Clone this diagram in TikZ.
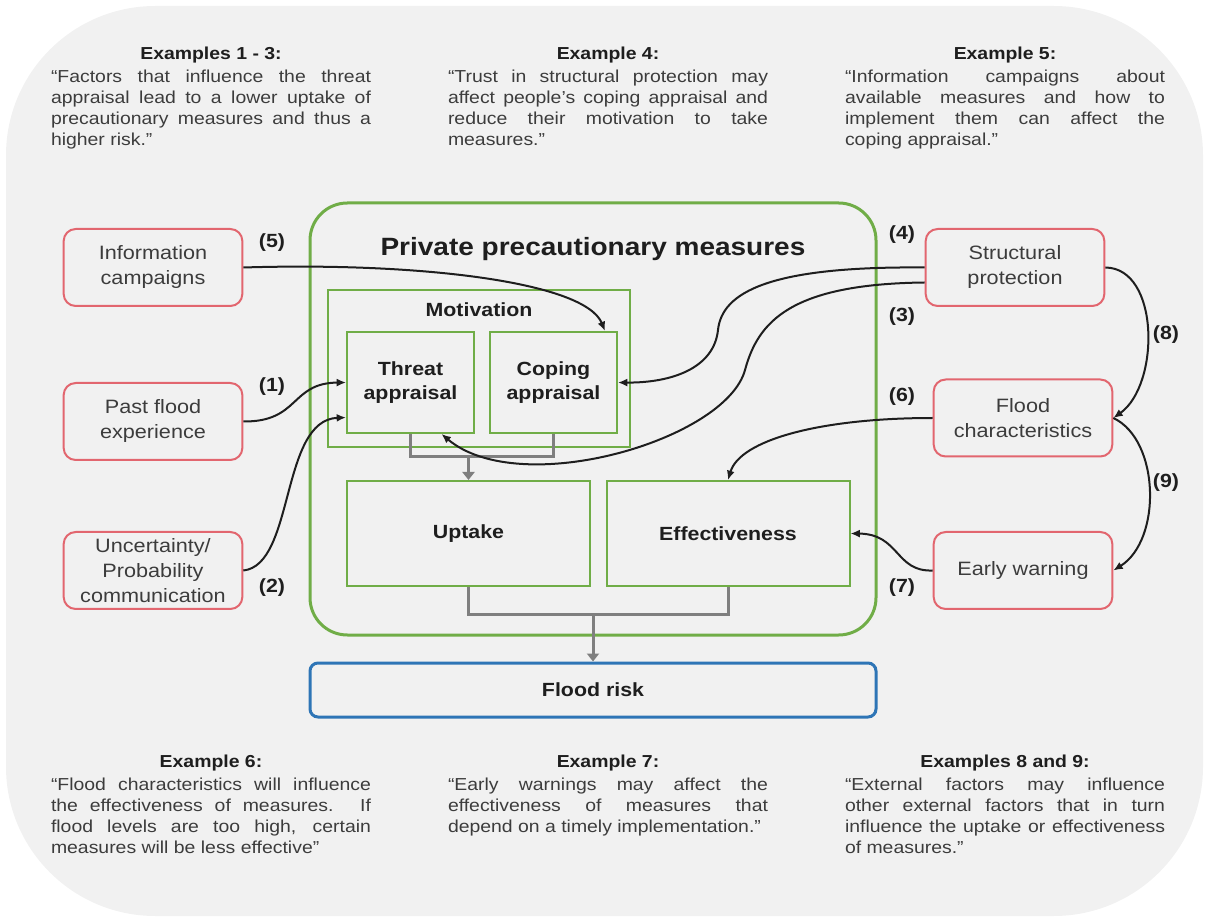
\documentclass[tikz,border=0pt]{standalone}
\usepackage{fontspec}
\setmainfont{Liberation Sans}[FakeStretch=1.12]
\usepackage{tikz}
\usetikzlibrary{positioning,arrows.meta,calc}
\definecolor{FRBack}{HTML}{F1F1F1}
\definecolor{FRRed}{HTML}{E2666F}
\definecolor{FRGreen}{HTML}{70AD47}
\definecolor{FRBlue}{HTML}{2E75B6}
\definecolor{FRGray}{HTML}{7F7F7F}
\definecolor{FRDark}{HTML}{1E1E1E}
\definecolor{FRText}{HTML}{3C3C3C}
\tikzset{frfactor/.style={draw=FRRed, line width=1.5pt, rounded corners=9pt, fill=FRBack, align=center, minimum width=134pt, minimum height=57.75pt, inner sep=2pt, text=FRText, font=\fontsize{14.5}{18.75}\selectfont}, frpanel/.style={draw=FRGreen, line width=2.25pt, rounded corners=28pt, minimum width=424.5pt, minimum height=324pt}, frgroup/.style={draw=FRGreen, line width=1.5pt, minimum width=226.5pt, minimum height=117.75pt}, frappraisal/.style={draw=FRGreen, line width=1.5pt, align=center, minimum width=95.25pt, minimum height=75.75pt, text=FRDark, font=\fontsize{14.3}{18.3}\selectfont\bfseries}, fraspect/.style={draw=FRGreen, line width=1.5pt, minimum width=182.25pt, minimum height=78.75pt, text=FRDark, font=\fontsize{14.3}{18.3}\selectfont\bfseries}, frrisk/.style={draw=FRBlue, line width=2.25pt, rounded corners=6pt, minimum width=424.5pt, minimum height=40.5pt, text=FRDark, font=\fontsize{14.3}{18.3}\selectfont\bfseries}, frtitle/.style={text=FRDark, font=\fontsize{18.75}{22}\selectfont\bfseries}, frlabel/.style={inner sep=1pt, text=FRDark, font=\fontsize{14.3}{18.3}\selectfont\bfseries}, frhead/.style={inner sep=0pt, text=FRDark, font=\fontsize{13}{15.75}\selectfont\bfseries}, frquote/.style={inner sep=0pt, text width=240pt, align=justify, text=FRText, font=\fontsize{13}{15.75}\selectfont}, frarrow/.style={-{Latex[length=7pt,width=6pt]}, line width=1.5pt, draw=FRDark}, frflow/.style={line width=2.25pt, draw=FRGray}, frflowarrow/.style={-{Triangle[length=6pt,width=9pt]}, line width=2.25pt, draw=FRGray}}
\begin{document}
\begin{tikzpicture}[x=0.75pt,y=-0.75pt]
\useasboundingbox (0,0) rectangle (1207,919);
\fill[FRBack, rounded corners=112pt] (6,6) rectangle (1203,916);
\node[frhead] (ex1) at (211,55) {Examples 1 - 3:};
\node[frquote, below=5pt of ex1] (q1) {“Factors that influence the threat\linebreak appraisal lead to a lower uptake of\linebreak precautionary measures and thus a\linebreak higher risk.”};
\node[frhead] (ex4) at (608,55) {Example 4:};
\node[frquote, below=5pt of ex4] (q4) {“Trust in structural protection may\linebreak affect people’s coping appraisal and\linebreak reduce their motivation to take\linebreak measures.”};
\node[frhead] (ex5) at (1005,55) {Example 5:};
\node[frquote, below=5pt of ex5] (q5) {“Information campaigns about\linebreak available measures and how to\linebreak implement them can affect the\linebreak coping appraisal.”};
\node[frhead] (ex6) at (211,763) {Example 6:};
\node[frquote, below=5pt of ex6] (q6) {“Flood characteristics will influence\linebreak the effectiveness of measures. If\linebreak flood levels are too high, certain\linebreak measures will be less effective”};
\node[frhead] (ex7) at (608,763) {Example 7:};
\node[frquote, below=5pt of ex7] (q7) {“Early warnings may affect the\linebreak effectiveness of measures that\linebreak depend on a timely implementation.”};
\node[frhead] (ex8) at (1005,763) {Examples 8 and 9:};
\node[frquote, below=5pt of ex8] (q8) {“External factors may influence\linebreak other external factors that in turn\linebreak influence the uptake or effectiveness\linebreak of measures.”};
\node[frpanel] (ppm) at (593,419) {};
\node[frtitle] (ppmtitle) at (593,249) {Private precautionary measures};
\node[frgroup] (motiv) at (479,368.5) {};
\node[frlabel] (motivtitle) at (479,310) {Motivation};
\node[frappraisal] (threat) at (410.5,382.5) {Threat\\appraisal};
\node[frappraisal] (coping) at (553.5,382.5) {Coping\\appraisal};
\node[fraspect] (uptake) at (468.5,533.5) {Uptake};
\node[fraspect] (effect) at (728,533.5) {Effectiveness};
\node[frrisk] (risk) at (593,690) {Flood risk};
\node[frfactor] (info) at (153,267.5) {Information\\campaigns};
\node[frfactor] (past) at (153,421.5) {Past flood\\experience};
\node[frfactor] (uncert) at (153,570.5) {Uncertainty/\\Probability\\communication};
\node[frfactor] (struct) at (1015,267.5) {Structural\\protection};
\node[frfactor] (flood) at (1023,418) {Flood\\characteristics};
\node[frfactor] (early) at (1023,570.5) {Early warning};
\node[frlabel] (n5) at (272,243) {(5)};
\node[frlabel] (n1) at (272,387) {(1)};
\node[frlabel] (n2) at (272,588) {(2)};
\node[frlabel] (n4) at (902,235) {(4)};
\node[frlabel] (n3) at (902,317) {(3)};
\node[frlabel] (n6) at (902,397) {(6)};
\node[frlabel] (n7) at (902,588) {(7)};
\node[frlabel] (n8) at (1166,335) {(8)};
\node[frlabel] (n9) at (1166,483) {(9)};
\coordinate (motjoin) at (468.5,457);
\coordinate (riskjoin) at (593,615);
\draw[frflow] (threat.south) |- (motjoin);
\draw[frflow] (coping.south) |- (motjoin);
\draw[frflowarrow] (motjoin) -- (uptake.north);
\draw[frflow] (uptake.south) |- (riskjoin);
\draw[frflow] (effect.south) |- (riskjoin);
\draw[frflowarrow] (riskjoin) -- (risk.north);
\draw[frarrow] (info.east) .. controls (420,262) and (585,282) .. ($(coping.north east)+(-13,0)$);
\draw[frarrow] (past.east) .. controls (300,422) and (290,383) .. (threat.west);
\draw[frarrow] (uncert.east) .. controls (295,565) and (280,420) .. ($(threat.west)+(0,35)$);
\draw[frarrow] (struct.west) .. controls (770,266) and (722,292) .. (718,330) .. controls (714,368) and (672,383) .. (coping.east);
\draw[frarrow] ($(struct.west)+(0,15)$) .. controls (790,284) and (758,322) .. (745,370) .. controls (726,440) and (520,500) .. ($(threat.south)+(31,0)$);
\draw[frarrow] (flood.west) .. controls (820,418) and (740,440) .. (effect.north);
\draw[frarrow] (early.west) .. controls (895,572) and (900,534) .. (effect.east);
\draw[frarrow] (struct.east) .. controls (1160,268) and (1160,385) .. (flood.east);
\draw[frarrow] (flood.east) .. controls (1160,440) and (1162,540) .. (early.east);
\end{tikzpicture}
\end{document}
